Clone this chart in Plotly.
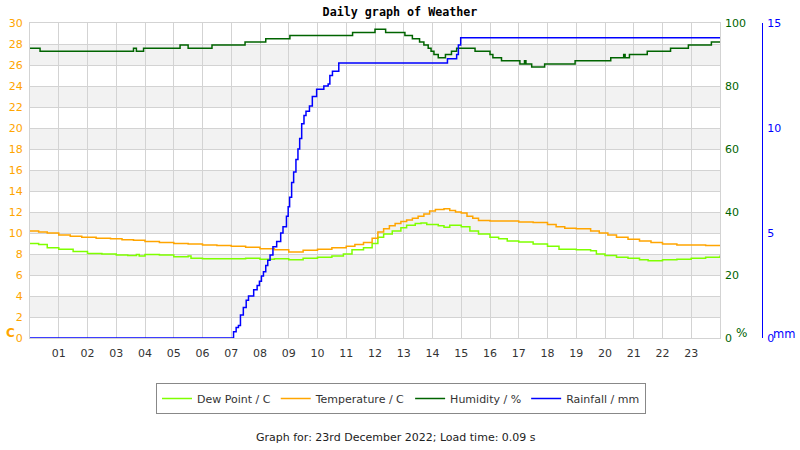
import plotly.graph_objects as go

# ---------------- data ----------------
temp_hours = [0, 0.3, 0.6, 1.0, 1.4, 1.8, 2.3, 2.8, 3.2, 3.6, 4.0, 4.5, 5.0, 5.5, 6.0, 6.5, 7.0, 7.5,
              8.0, 8.5, 9.0, 9.5, 10.0, 10.5, 11.0, 11.3, 11.6, 11.9, 12.1, 12.3, 12.5, 12.7, 12.9,
              13.1, 13.3, 13.5, 13.7, 13.9, 14.1, 14.4, 14.6, 14.8, 15.0, 15.2, 15.4, 15.6, 16.0,
              16.5, 17.0, 17.5, 18.0, 18.3, 18.6, 19.0, 19.5, 19.8, 20.1, 20.4, 20.8, 21.2, 21.6,
              22.0, 22.5, 23.0, 23.5, 24.0]
temperature = [10.2, 10.1, 10.0, 9.8, 9.7, 9.6, 9.5, 9.45, 9.35, 9.3, 9.2, 9.1, 9.0, 8.95, 8.85, 8.8,
               8.75, 8.65, 8.5, 8.4, 8.2, 8.35, 8.45, 8.6, 8.75, 8.9, 9.1, 9.5, 10.1, 10.4, 10.7,
               10.9, 11.1, 11.25, 11.4, 11.6, 11.8, 12.1, 12.25, 12.3, 12.15, 12.0, 11.9, 11.6,
               11.4, 11.2, 11.15, 11.15, 11.05, 11.0, 10.8, 10.6, 10.45, 10.4, 10.2, 10.0, 9.8,
               9.6, 9.4, 9.25, 9.1, 8.95, 8.85, 8.85, 8.8, 8.8]

dew_hours = [0, 0.3, 0.6, 1.0, 1.5, 2.0, 2.5, 3.0, 3.4, 3.7, 3.8, 4.0, 4.5, 5.0, 5.5, 5.6, 6.0, 6.5,
             7.0, 7.5, 8.0, 8.5, 9.0, 9.5, 10.0, 10.5, 10.9, 11.2, 11.6, 11.9, 12.1, 12.3, 12.6,
             12.9, 13.1, 13.4, 13.6, 13.8, 14.2, 14.4, 14.6, 15.0, 15.3, 15.6, 16.0, 16.3, 16.6,
             17.0, 17.5, 18.0, 18.4, 19.0, 19.5, 19.7, 20.0, 20.4, 20.8, 21.2, 21.5, 22.0, 22.5,
             23.0, 23.5, 24.0]
dew_point = [9.0, 8.9, 8.6, 8.45, 8.25, 8.05, 8.0, 7.9, 7.85, 7.95, 7.8, 7.95, 7.9, 7.75, 7.8, 7.6,
             7.55, 7.55, 7.55, 7.6, 7.5, 7.55, 7.45, 7.6, 7.7, 7.8, 8.0, 8.4, 8.6, 9.0, 9.6, 9.9,
             10.2, 10.5, 10.75, 10.9, 10.95, 10.8, 10.7, 10.55, 10.75, 10.6, 10.2, 9.9, 9.6, 9.45,
             9.25, 9.15, 8.95, 8.75, 8.45, 8.4, 8.3, 8.0, 7.85, 7.7, 7.6, 7.45, 7.35, 7.45, 7.5,
             7.6, 7.7, 7.85]

hum_hours = [0, 0.35, 3.6, 3.7, 3.95, 5.22, 5.5, 6.33, 7.48, 8.2, 9.04, 11.22, 12.0, 12.37, 13.04,
             13.3, 13.55, 13.7, 13.85, 13.95, 14.05, 14.2, 14.45, 14.66, 14.84, 15.48, 16.0, 16.1,
             16.4, 17.04, 17.2, 17.25, 17.45, 17.9, 18.96, 20.2, 20.65, 20.7, 20.85, 21.47, 22.28,
             22.9, 23.7, 24.0]
humidity = [92, 91, 92, 91, 92, 93, 92, 93, 94, 95, 96, 97, 98, 97, 96,
            95, 94, 93, 92, 91, 90, 89, 90, 91, 92, 91, 90, 89,
            88, 87, 88, 87, 86, 87, 88, 89, 90, 89, 90, 91, 92,
            93, 94, 94]

rain_hours = [0, 7.0, 7.08, 7.17, 7.25, 7.32, 7.42, 7.52, 7.6, 7.78, 7.9, 7.98, 8.05, 8.12, 8.2,
              8.27, 8.35, 8.45, 8.58, 8.72, 8.8, 8.92, 8.98, 9.03, 9.1, 9.17, 9.25, 9.32, 9.38,
              9.45, 9.53, 9.6, 9.72, 9.82, 9.97, 10.22, 10.37, 10.43, 10.52, 10.74, 14.52, 14.84,
              14.9, 14.98, 24.0]
rainfall = [0, 0, 0.3, 0.5, 0.6, 1.1, 1.45, 1.8, 2.0, 2.3, 2.5, 2.7, 2.95, 3.15, 3.45,
            3.7, 3.95, 4.35, 4.6, 5.0, 5.3, 5.8, 6.25, 6.7, 7.4, 7.9, 8.5, 9.0, 9.5,
            10.2, 10.6, 10.8, 11.05, 11.5, 11.85, 12.0, 12.1, 12.5, 12.7, 13.1, 13.3, 13.5,
            13.95, 14.3, 14.3]

hour_ticks = list(range(1, 24))
hour_labels = ["%02d" % h for h in hour_ticks]
temp_ticks = list(range(0, 31, 2))
hum_ticks = list(range(0, 101, 20))
rain_ticks = [0, 5, 10, 15]

# ---------------- layout helpers ----------------
W, H = 800, 450
L, R, T, B = 30, 0, 23, 112
PW = W - L - R
PH = H - T - B
PLOT_RIGHT = 720


def px(x):
    return (x - L) / PW


def py(y):
    return (T + PH - y) / PH


FONT = "DejaVu Sans"
ORANGE = "#ffa500"
GREEN = "#006400"
BLUE = "#0000ff"
LIME = "#7fff00"
GRID = "#d3d3d3"

fig = go.Figure()
fig.add_trace(go.Scatter(x=dew_hours, y=dew_point, name="Dew Point / C", mode="lines",
                         line=dict(color=LIME, width=1.5, shape="hv"), yaxis="y"))
fig.add_trace(go.Scatter(x=temp_hours, y=temperature, name="Temperature / C", mode="lines",
                         line=dict(color=ORANGE, width=1.5, shape="hv"), yaxis="y"))
fig.add_trace(go.Scatter(x=hum_hours, y=humidity, name="Humidity / %", mode="lines",
                         line=dict(color=GREEN, width=1.5, shape="hv"), yaxis="y2"))
fig.add_trace(go.Scatter(x=rain_hours, y=rainfall, name="Rainfall / mm", mode="lines",
                         line=dict(color=BLUE, width=1.5, shape="hv"), yaxis="y3"))

# alternating bands
shapes = []
for lo in range(2, 30, 4):
    shapes.append(dict(type="rect", xref="x", yref="y", x0=0, x1=24, y0=lo, y1=lo + 2,
                       fillcolor="#f2f2f2", line=dict(width=0), layer="below"))

fig.update_layout(
    width=W, height=H,
    margin=dict(l=L, r=R, t=T, b=B, pad=0),
    paper_bgcolor="white", plot_bgcolor="white",
    font=dict(family=FONT, size=11, color="#333333"),
    shapes=shapes,
    title=dict(text="<b>Daily graph of Weather</b>", x=0.5, xref="container", xanchor="center",
               y=1 - 12 / H, yref="container", yanchor="middle",
               font=dict(family="DejaVu Sans Mono", size=11.7, color="#000000")),
    xaxis=dict(domain=[0, (PLOT_RIGHT - L) / PW], range=[0, 24], tickvals=hour_ticks,
               ticktext=hour_labels, showgrid=True, gridcolor=GRID, gridwidth=1,
               showline=True, linecolor=GRID, linewidth=1, mirror=True, zeroline=False,
               ticks="", tickfont=dict(size=11, color="#333333"), ticklabelstandoff=5),
    yaxis=dict(range=[0, 30], tickvals=temp_ticks, showgrid=True, gridcolor=GRID, gridwidth=1,
               showline=True, linecolor=GRID, linewidth=1, mirror=True, zeroline=False,
               ticks="", tickfont=dict(size=11, color=ORANGE), ticklabelstandoff=4),
    yaxis2=dict(range=[0, 100], tickvals=hum_ticks, overlaying="y", side="right", anchor="x",
                showgrid=False, zeroline=False, showline=False, ticks="",
                tickfont=dict(size=11, color=GREEN), ticklabelstandoff=4),
    yaxis3=dict(range=[0, 15], tickvals=rain_ticks, overlaying="y", side="right", anchor="free",
                position=px(762), showgrid=False, zeroline=False, showline=True, linecolor=BLUE,
                linewidth=1, ticks="", tickfont=dict(size=11, color=BLUE), ticklabelstandoff=2),
    legend=dict(orientation="h", x=px(401), xanchor="center", y=py(383), yanchor="top",
                bordercolor="#888888", borderwidth=1, bgcolor="white",
                font=dict(size=11, color="#333333"), traceorder="normal", itemwidth=30,
                tracegroupgap=0),
    showlegend=True,
    annotations=[
        dict(text="<b>C</b>", x=px(4), y=py(333), xref="paper", yref="paper", showarrow=False,
             xanchor="left", yanchor="middle", font=dict(size=12, color=ORANGE)),
        dict(text="%", x=px(734), y=py(333), xref="paper", yref="paper", showarrow=False,
             xanchor="left", yanchor="middle", font=dict(size=12, color=GREEN)),
        dict(text="mm", x=px(797), y=py(334), xref="paper", yref="paper", showarrow=False,
             xanchor="right", yanchor="middle", font=dict(size=11.5, color=BLUE)),
        dict(text="Graph for: 23rd December 2022; Load time: 0.09 s", x=px(396), y=py(437),
             xref="paper", yref="paper", showarrow=False, xanchor="center", yanchor="middle",
             font=dict(size=11, color="#222222")),
    ],
)

fig.write_html("out.html")
